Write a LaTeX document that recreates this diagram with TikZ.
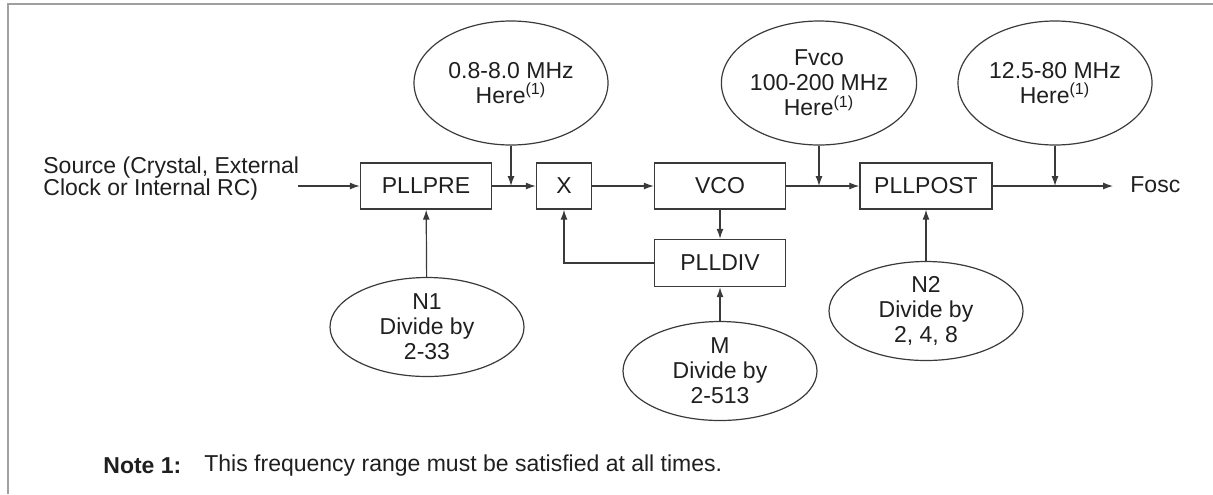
\documentclass[tikz,border=0pt]{standalone}
\usepackage{fontspec}
\setmainfont{Liberation Sans}
\usetikzlibrary{shapes.geometric,arrows.meta,positioning}
\definecolor{linegray}{HTML}{3A3A3A}
\definecolor{framegray}{HTML}{A0A0A0}
\tikzset{
  blk/.style={draw=linegray, line width=0.7pt, minimum height=23pt, inner sep=0pt},
  oval/.style={draw=linegray, ellipse, line width=0.6pt, minimum width=97pt, inner sep=0pt, align=center},
  sig/.style={draw=linegray, line width=0.6pt, -{Latex[length=5pt,width=3.5pt]}},
}
\begin{document}
\begin{tikzpicture}[x=0.5pt, y=-0.5pt, font=\fontsize{11.5}{12.5}\selectfont, text=black!88]
  \useasboundingbox (0,0) rectangle (1213,494);
  \draw[framegray, line width=1pt] (8,494) -- (8,4) -- (1213,4);

  % blocks on the main path
  \node[blk, minimum width=65.5pt] (pre)  at (426,186) {PLLPRE};
  \node[blk, minimum width=27.5pt] (mix)  at (564,186) {X};
  \node[blk, minimum width=65.5pt] (vco)  at (720,186) {VCO};
  \node[blk, minimum width=65.5pt, minimum height=23.5pt] (div) at (720,263) {PLLDIV};
  \node[blk, minimum width=66pt]   (post) at (926,186) {PLLPOST};

  % frequency ranges
  \node[oval, minimum height=62pt] (rin)  at (511,83)  {0.8-8.0 MHz\\Here\textsuperscript{(1)}};
  \node[oval, minimum height=62pt] (rvco) at (819,83)  {Fvco\\100-200 MHz\\Here\textsuperscript{(1)}};
  \node[oval, minimum height=62pt] (rout) at (1055,83) {12.5-80 MHz\\Here\textsuperscript{(1)}};

  % dividers
  \node[oval, minimum height=49.5pt] (nA) at (427,327) {N1\\Divide by\\2-33};
  \node[oval, minimum height=49.5pt] (nM) at (720,371) {M\\Divide by\\2-513};
  \node[oval, minimum height=49.5pt] (nB) at (926,311) {N2\\Divide by\\2, 4, 8};

  \node[anchor=west, inner sep=0pt, align=left, font=\fontsize{11.5}{11}\selectfont]
    (src) at (43,179) {Source (Crystal, External\\Clock or Internal RC)};
  \coordinate (srcout) at (298,186);
  \coordinate (out) at (1113,186);
  \node[anchor=west, inner sep=0pt] (fosc) at (1130,185) {Fosc};

  \draw[sig] (srcout) -- (pre);
  \draw[sig] (pre) -- (mix);
  \draw[sig] (mix) -- (vco);
  \draw[sig] (vco) -- (post);
  \draw[sig] (post) -- (out);
  \draw[sig] (vco) -- (div);
  \draw[sig] (div.west) -| (mix.south);

  \draw[sig] (rin.south) -- (rin.south |- pre.east);
  \draw[sig] (rvco.south) -- (rvco.south |- vco.east);
  \draw[sig] (rout.south) -- (rout.south |- post.east);

  \draw[sig] (nA) -- (pre);
  \draw[sig] (nM) -- (div);
  \draw[sig] (nB) -- (post);

  \node[anchor=west, inner sep=0pt] (note) at (103,466) {\textbf{Note 1:}};
  \node[anchor=west, inner sep=0pt] (notetext) at (204,466) {This frequency range must be satisfied at all times.};
\end{tikzpicture}
\end{document}
